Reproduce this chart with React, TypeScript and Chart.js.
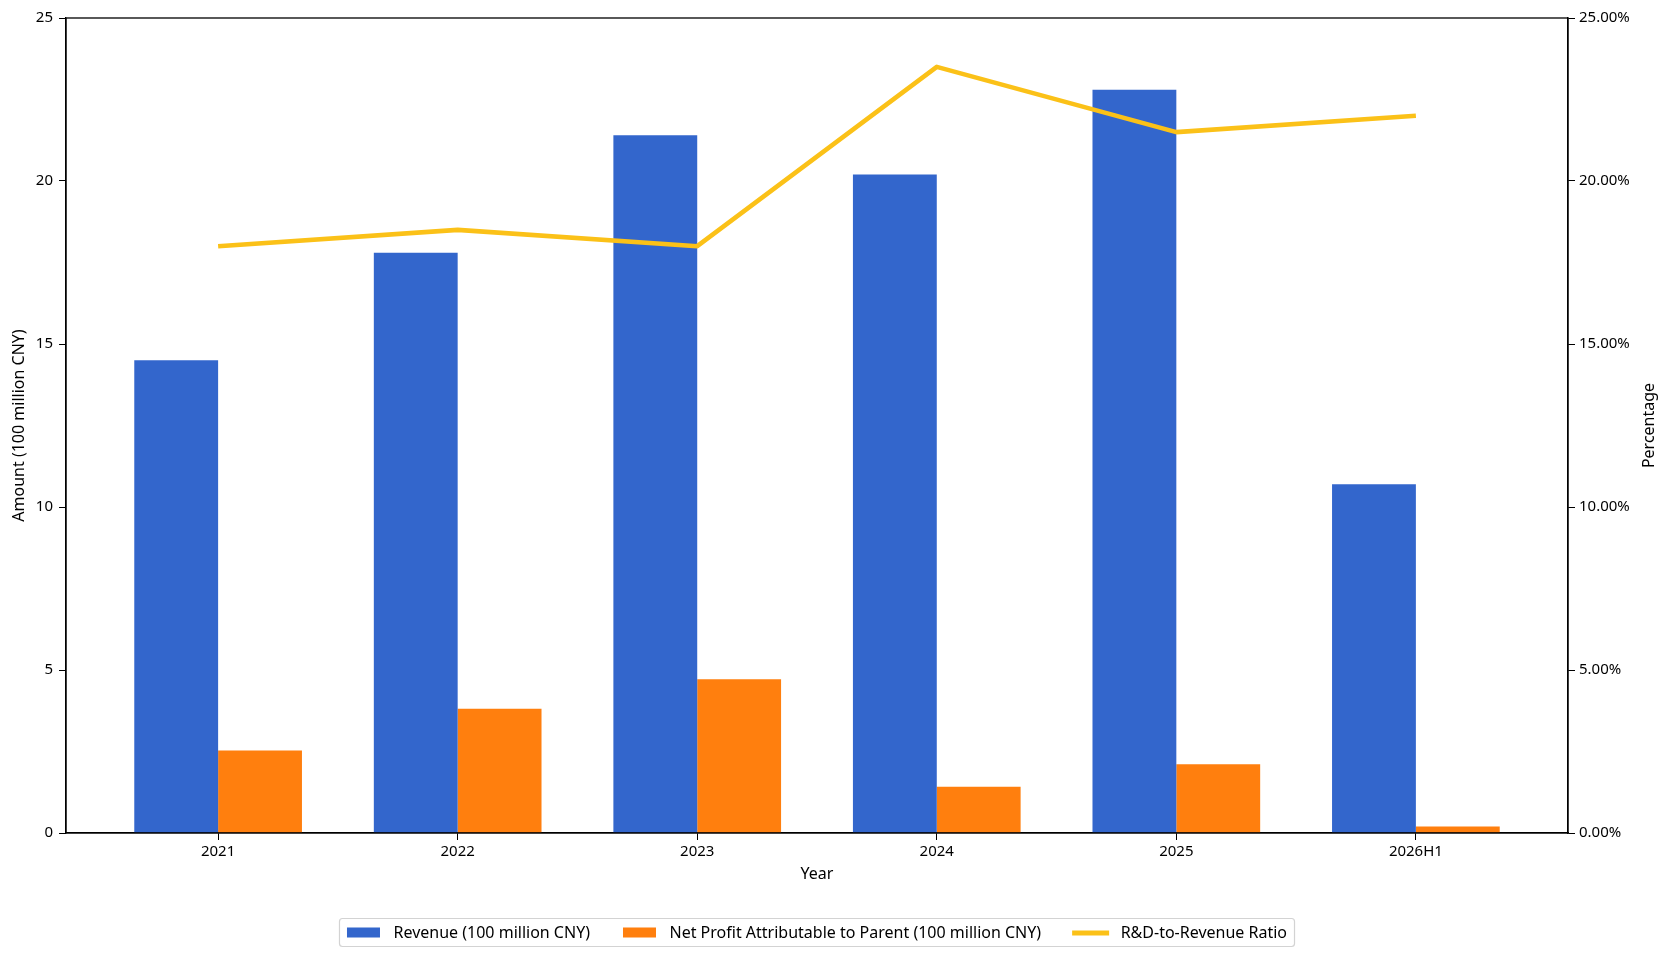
import React, { useEffect, useRef } from 'react';
import { Chart, registerables } from 'chart.js';

Chart.register(...registerables);

// ---- data ----
const years = ['2021', '2022', '2023', '2024', '2025', '2026H1'];
const revenue = [14.5, 17.8, 21.4, 20.2, 22.8, 10.7]; // 100 million CNY
const netProfit = [2.53, 3.81, 4.72, 1.42, 2.11, 0.2]; // 100 million CNY
const rdRatio = [18.0, 18.5, 18.0, 23.5, 21.5, 22.0]; // percent
const amountTicks = [0, 5, 10, 15, 20, 25];
const percentTicks = [0, 5, 10, 15, 20, 25];

const FONT = '"Noto Sans", "DejaVu Sans", sans-serif';
const BLUE = '#3366CC';
const ORANGE = '#FF7F0E';
const YELLOW = '#FBC118';

const W = 1667;
const H = 959;

// frame around the plot area + right axis title + boxed legend
const decorPlugin = {
  id: 'decor',
  afterDatasetsDraw(chart: any) {
    const { ctx, chartArea } = chart;
    ctx.save();
    ctx.strokeStyle = '#000';
    ctx.lineWidth = 1.3;
    ctx.strokeRect(chartArea.left, chartArea.top, chartArea.right - chartArea.left, chartArea.bottom - chartArea.top);
    ctx.restore();
  },
  afterDraw(chart: any) {
    const { ctx, chartArea } = chart;
    ctx.save();

    // right axis title, reading bottom to top
    ctx.font = `16px ${FONT}`;
    ctx.fillStyle = '#000';
    ctx.textAlign = 'center';
    ctx.textBaseline = 'alphabetic';
    ctx.translate(1654, (chartArea.top + chartArea.bottom) / 2);
    ctx.rotate(-Math.PI / 2);
    ctx.fillText('Percentage', 0, 0);
    ctx.setTransform(1, 0, 0, 1, 0, 0);

    // legend
    const items = chart.data.datasets.map((ds: any) => ({
      label: ds.label as string,
      color: (ds.type === 'line' ? ds.borderColor : ds.backgroundColor) as string,
      line: ds.type === 'line',
    }));
    ctx.font = `16px ${FONT}`;
    const swatch = 33;
    const gap = 13.5;
    const colGap = 33;
    const padX = 7.5;
    const boxTop = 918.5;
    const boxH = 28;
    const widths = items.map((it: any) => swatch + gap + ctx.measureText(it.label).width);
    const total = padX * 2 + widths.reduce((a: number, b: number) => a + b, 0) + colGap * (items.length - 1);
    const cx = (chartArea.left + chartArea.right) / 2;
    const x0 = cx - total / 2;

    ctx.fillStyle = 'rgba(255,255,255,0.8)';
    ctx.strokeStyle = '#d3d3d3';
    ctx.lineWidth = 1.2;
    ctx.beginPath();
    ctx.roundRect(x0, boxTop, total, boxH, 3);
    ctx.fill();
    ctx.stroke();

    const midY = boxTop + boxH / 2;
    let x = x0 + padX;
    items.forEach((it: any, i: number) => {
      if (it.line) {
        ctx.strokeStyle = it.color;
        ctx.lineWidth = 4.8;
        ctx.beginPath();
        ctx.moveTo(x - 2, midY + 0.5);
        ctx.lineTo(x + swatch + 2, midY + 0.5);
        ctx.stroke();
      } else {
        ctx.fillStyle = it.color;
        ctx.fillRect(x, midY - 5, swatch, 10);
      }
      ctx.fillStyle = '#000';
      ctx.textAlign = 'left';
      ctx.textBaseline = 'middle';
      ctx.fillText(it.label, x + swatch + gap, midY + 0.5);
      x += widths[i] + colGap;
    });
    ctx.restore();
  },
};

const tickFont = { family: FONT, size: 15 };
const titleFont = { family: FONT, size: 16 };

export default function App() {
  const canvasRef = useRef<HTMLCanvasElement>(null);

  useEffect(() => {
    document.body.style.margin = '0';
    const ctx = canvasRef.current?.getContext('2d');
    if (!ctx) return;

    const chart = new Chart(ctx, {
      type: 'bar',
      data: {
        datasets: [
          {
            type: 'bar',
            label: 'Revenue (100 million CNY)',
            data: revenue.map((v, i) => ({ x: i, y: v })),
            backgroundColor: BLUE,
            borderWidth: 0,
            categoryPercentage: 0.7,
            barPercentage: 1.0,
            yAxisID: 'y',
            order: 2,
          },
          {
            type: 'bar',
            label: 'Net Profit Attributable to Parent (100 million CNY)',
            data: netProfit.map((v, i) => ({ x: i, y: v })),
            backgroundColor: ORANGE,
            borderWidth: 0,
            categoryPercentage: 0.7,
            barPercentage: 1.0,
            yAxisID: 'y',
            order: 2,
          },
          {
            type: 'line',
            label: 'R&D-to-Revenue Ratio',
            data: rdRatio.map((v, i) => ({ x: i, y: v })),
            borderColor: YELLOW,
            backgroundColor: YELLOW,
            borderWidth: 4.6,
            pointRadius: 0,
            tension: 0,
            borderJoinStyle: 'round',
            fill: false,
            yAxisID: 'y1',
            order: 0,
          },
        ] as any,
      },
      options: {
        responsive: false,
        maintainAspectRatio: false,
        animation: false,
        devicePixelRatio: 1,
        events: [],
        layout: { padding: { top: 18, left: 0, right: 0, bottom: 66 } },
        plugins: {
          legend: { display: false },
          tooltip: { enabled: false },
        },
        scales: {
          x: {
            type: 'linear',
            position: 'bottom',
            offset: false,
            min: -0.635,
            max: 5.635,
            afterBuildTicks: (s: any) => {
              s.ticks = years.map((_, i) => ({ value: i }));
            },
            ticks: {
              callback: (v: any) => years[v] ?? '',
              font: tickFont,
              color: '#000',
              padding: 3,
              maxRotation: 0,
              autoSkip: false,
            },
            grid: {
              display: true,
              offset: false,
              drawOnChartArea: false,
              drawTicks: true,
              tickLength: 7,
              tickColor: '#000',
              tickWidth: 1,
            },
            border: { display: true, color: '#000', width: 1.3 },
            title: { display: true, text: 'Year', font: titleFont, color: '#000', padding: { top: 0, bottom: 9 } },
            afterFit: (s: any) => {
              s.height = 60;
            },
          },
          y: {
            type: 'linear',
            position: 'left',
            min: 0,
            max: 25,
            afterBuildTicks: (s: any) => {
              s.ticks = amountTicks.map((v) => ({ value: v }));
            },
            ticks: { font: tickFont, color: '#000', padding: 6 },
            grid: { display: true, drawOnChartArea: false, drawTicks: true, tickLength: 7, tickColor: '#000', tickWidth: 1 },
            border: { display: true, color: '#000', width: 1.3 },
            title: {
              display: true,
              text: 'Amount (100 million CNY)',
              font: titleFont,
              color: '#000',
              padding: { top: 10, bottom: 0 },
            },
            afterFit: (s: any) => {
              s.width = 66;
            },
          },
          y1: {
            type: 'linear',
            position: 'right',
            min: 0,
            max: 25,
            afterBuildTicks: (s: any) => {
              s.ticks = percentTicks.map((v) => ({ value: v }));
            },
            ticks: {
              font: tickFont,
              color: '#000',
              padding: 4,
              callback: (v: any) => `${Number(v).toFixed(2)}%`,
            },
            grid: { display: true, drawOnChartArea: false, drawTicks: true, tickLength: 7, tickColor: '#000', tickWidth: 1 },
            border: { display: true, color: '#000', width: 1.3 },
            title: { display: false },
            afterFit: (s: any) => {
              s.width = 99;
            },
          },
        },
      } as any,
      plugins: [decorPlugin],
    });

    return () => {
      chart.destroy();
    };
  }, []);

  return (
    <div style={{ width: W, height: H, background: '#fff' }}>
      <canvas ref={canvasRef} width={W} height={H} style={{ display: 'block' }} />
    </div>
  );
}
